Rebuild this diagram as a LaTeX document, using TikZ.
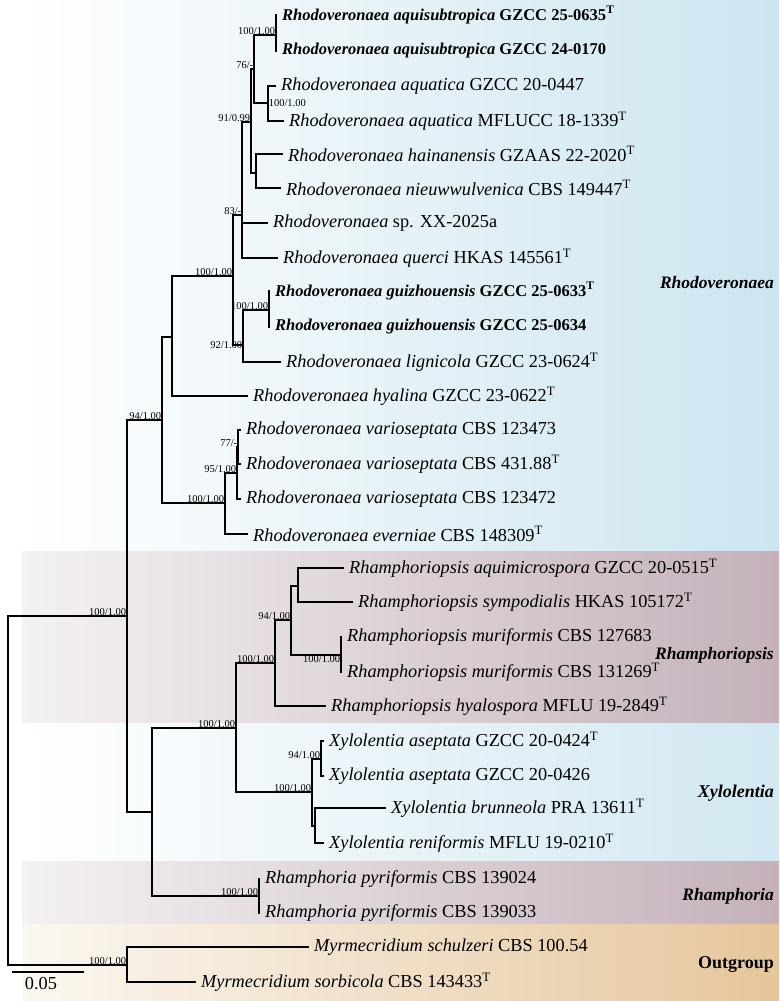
\documentclass[tikz,border=0pt]{standalone}
\usepackage{fontspec}
\setmainfont{Liberation Serif}
\usepackage{tikz}
\usetikzlibrary{positioning,calc}

\definecolor{rhoblue}{RGB}{205,229,240}
\definecolor{mauvedark}{RGB}{196,177,187}
\definecolor{mauvelight}{RGB}{244,241,243}
\definecolor{outtan}{RGB}{229,198,156}
\definecolor{outtanlight}{RGB}{251,247,241}

\begin{document}
\begin{tikzpicture}[x=1pt,y=-1pt,
    branch/.style={line width=1.1pt,line cap=rect},
    taxon/.style={anchor=west,inner sep=0pt,xshift=6pt,font=\fontsize{18.3}{20}\selectfont},
    newtaxon/.style={taxon,font=\fontsize{16.5}{18}\selectfont\bfseries},
    bs/.style={anchor=south east,inner sep=0.6pt,font=\fontsize{10.5}{11}\selectfont},
    clade/.style={anchor=east,inner sep=0pt,font=\fontsize{17.5}{19}\selectfont\bfseries\itshape}]
\useasboundingbox (0,0) rectangle (779,1001);

% clade bands
\fill[left color=white,right color=rhoblue] (22,0) rectangle (779,551);
\fill[left color=mauvelight,right color=mauvedark] (22,551) rectangle (779,723);
\fill[left color=white,right color=rhoblue!90] (22,723) rectangle (779,861);
\fill[left color=mauvelight,right color=mauvedark] (22,861) rectangle (779,924);
\fill[left color=outtanlight,right color=outtan] (22,924) rectangle (779,1001);

% internal nodes
\coordinate (root) at (8,790);
\coordinate (A) at (127,616);
\coordinate (rho) at (162,420);
\coordinate (B) at (172,337);
\coordinate (C) at (233,276);
\coordinate (D) at (242,215);
\coordinate (E) at (251,122);
\coordinate (F) at (254,69);
\coordinate (G) at (276,35);
\coordinate (H) at (268,103);
\coordinate (I) at (256,173);
\coordinate (J) at (243,345);
\coordinate (K) at (269,310);
\coordinate (L) at (225,503);
\coordinate (M) at (237,473);
\coordinate (N) at (238,447);
\coordinate (P) at (152,812);
\coordinate (Q) at (236,728);
\coordinate (rph) at (275,663);
\coordinate (S) at (291,620);
\coordinate (T) at (298,586);
\coordinate (U) at (341,655);
\coordinate (xy) at (312,792);
\coordinate (V) at (321,759);
\coordinate (W) at (315,826);
\coordinate (rha) at (259,896);
\coordinate (out) at (127,965);

% tips
\coordinate (t1) at (276,15);
\coordinate (t2) at (276,51);
\coordinate (t3) at (275,86);
\coordinate (t4) at (283,121);
\coordinate (t5) at (282,154);
\coordinate (t6) at (280,188);
\coordinate (t7) at (267,223);
\coordinate (t8) at (277,258);
\coordinate (t9) at (269,291);
\coordinate (t10) at (269,327);
\coordinate (t11) at (280,362);
\coordinate (t12) at (247,396);
\coordinate (t13) at (240,430);
\coordinate (t14) at (240,464);
\coordinate (t15) at (240,499);
\coordinate (t16) at (247,534);
\coordinate (t17) at (343,568);
\coordinate (t18) at (352,602);
\coordinate (t19) at (341,637);
\coordinate (t20) at (341,672);
\coordinate (t21) at (325,706);
\coordinate (t22) at (323,741);
\coordinate (t23) at (323,776);
\coordinate (t24) at (385,808);
\coordinate (t25) at (323,843);
\coordinate (t26) at (259,879);
\coordinate (t27) at (259,913);
\coordinate (t28) at (308,947);
\coordinate (t29) at (195,982);

% branches
\foreach \p/\c in {root/A,root/out,A/rho,A/P,rho/B,rho/L,B/C,B/t12,C/D,C/J,
    D/E,D/t7,D/t8,E/F,E/I,F/G,F/H,G/t1,G/t2,H/t3,H/t4,I/t5,I/t6,
    J/K,J/t11,K/t9,K/t10,L/M,L/t16,M/N,M/t15,N/t13,N/t14,
    P/Q,P/rha,Q/rph,Q/xy,rph/S,rph/t21,S/T,S/U,T/t17,T/t18,U/t19,U/t20,
    xy/V,xy/W,V/t22,V/t23,W/t24,W/t25,rha/t26,rha/t27,out/t28,out/t29}
    \draw[branch] (\p) |- (\c);

% support values
\node[bs] (sA) at (A) {100/1.00};
\node[bs] (srho) at (rho) {94/1.00};
\node[bs] (sC) at (C) {100/1.00};
\node[bs] (sD) at (D) {83/-};
\node[bs] (sE) at (E) {91/0.99};
\node[bs] (sF) at (F) {76/-};
\node[bs] (sG) at (G) {100/1.00};
\node[bs,anchor=west] (sH) at (H) {100/1.00};
\node[bs] (sJ) at ($(J)+(0,4)$) {92/1.00};
\node[bs] (sK) at (K) {100/1.00};
\node[bs] (sL) at (L) {100/1.00};
\node[bs] (sM) at (M) {95/1.00};
\node[bs] (sN) at (N) {77/-};
\node[bs] (sQ) at (Q) {100/1.00};
\node[bs] (srph) at (rph) {100/1.00};
\node[bs] (sS) at (S) {94/1.00};
\node[bs,anchor=north east] (sU) at (U) {100/1.00};
\node[bs] (sxy) at (xy) {100/1.00};
\node[bs] (sV) at (V) {94/1.00};
\node[bs] (srha) at (rha) {100/1.00};
\node[bs] (sout) at (out) {100/1.00};

% taxa
\node[newtaxon] (n1) at (t1) {\textit{Rhodoveronaea aquisubtropica} GZCC 25-0635\textsuperscript{T}};
\node[newtaxon] (n2) at (t2) {\textit{Rhodoveronaea aquisubtropica} GZCC 24-0170};
\node[taxon] (n3) at (t3) {\textit{Rhodoveronaea aquatica} GZCC 20-0447};
\node[taxon] (n4) at (t4) {\textit{Rhodoveronaea aquatica} MFLUCC 18-1339\textsuperscript{T}};
\node[taxon] (n5) at (t5) {\textit{Rhodoveronaea hainanensis} GZAAS 22-2020\textsuperscript{T}};
\node[taxon] (n6) at (t6) {\textit{Rhodoveronaea nieuwwulvenica} CBS 149447\textsuperscript{T}};
\node[taxon] (n7) at (t7) {\textit{Rhodoveronaea} sp. XX-2025a};
\node[taxon] (n8) at (t8) {\textit{Rhodoveronaea querci} HKAS 145561\textsuperscript{T}};
\node[newtaxon] (n9) at (t9) {\textit{Rhodoveronaea guizhouensis} GZCC 25-0633\textsuperscript{T}};
\node[newtaxon] (n10) at (t10) {\textit{Rhodoveronaea guizhouensis} GZCC 25-0634};
\node[taxon] (n11) at (t11) {\textit{Rhodoveronaea lignicola} GZCC 23-0624\textsuperscript{T}};
\node[taxon] (n12) at (t12) {\textit{Rhodoveronaea hyalina} GZCC 23-0622\textsuperscript{T}};
\node[taxon] (n13) at (t13) {\textit{Rhodoveronaea varioseptata} CBS 123473};
\node[taxon] (n14) at (t14) {\textit{Rhodoveronaea varioseptata} CBS 431.88\textsuperscript{T}};
\node[taxon] (n15) at (t15) {\textit{Rhodoveronaea varioseptata} CBS 123472};
\node[taxon] (n16) at (t16) {\textit{Rhodoveronaea everniae} CBS 148309\textsuperscript{T}};
\node[taxon] (n17) at (t17) {\textit{Rhamphoriopsis aquimicrospora} GZCC 20-0515\textsuperscript{T}};
\node[taxon] (n18) at (t18) {\textit{Rhamphoriopsis sympodialis} HKAS 105172\textsuperscript{T}};
\node[taxon] (n19) at (t19) {\textit{Rhamphoriopsis muriformis} CBS 127683};
\node[taxon] (n20) at (t20) {\textit{Rhamphoriopsis muriformis} CBS 131269\textsuperscript{T}};
\node[taxon] (n21) at (t21) {\textit{Rhamphoriopsis hyalospora} MFLU 19-2849\textsuperscript{T}};
\node[taxon] (n22) at (t22) {\textit{Xylolentia aseptata} GZCC 20-0424\textsuperscript{T}};
\node[taxon] (n23) at (t23) {\textit{Xylolentia aseptata} GZCC 20-0426};
\node[taxon] (n24) at (t24) {\textit{Xylolentia brunneola} PRA 13611\textsuperscript{T}};
\node[taxon] (n25) at (t25) {\textit{Xylolentia reniformis} MFLU 19-0210\textsuperscript{T}};
\node[taxon] (n26) at (t26) {\textit{Rhamphoria pyriformis} CBS 139024};
\node[taxon] (n27) at (t27) {\textit{Rhamphoria pyriformis} CBS 139033};
\node[taxon] (n28) at (t28) {\textit{Myrmecridium schulzeri} CBS 100.54};
\node[taxon] (n29) at (t29) {\textit{Myrmecridium sorbicola} CBS 143433\textsuperscript{T}};

% clade names
\node[clade] (cRho) at (774,283) {Rhodoveronaea};
\node[clade] (cRph) at (774,655) {Rhamphoriopsis};
\node[clade,font=\fontsize{18}{20}\selectfont\bfseries\itshape] (cXyl) at (774,793) {Xylolentia};
\node[clade] (cRha) at (774,896) {Rhamphoria};
\node[clade,font=\fontsize{18}{20}\selectfont\bfseries] (cOut) at (774,965) {Outgroup};

% scale bar
\coordinate (sb1) at (13,972);
\coordinate (sb2) at (83,972);
\draw[branch] (sb1) -- (sb2);
\node[inner sep=0pt,font=\fontsize{18.3}{20}\selectfont] (sbl) at (41,984) {0.05};
\end{tikzpicture}
\end{document}
